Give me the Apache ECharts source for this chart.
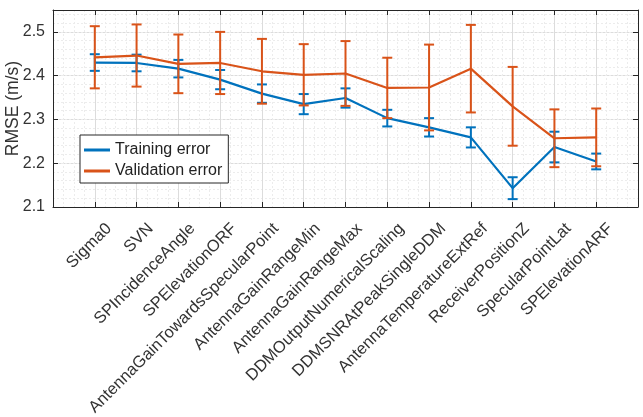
<!DOCTYPE html>
<html>
<head>
<meta charset="utf-8">
<script src="https://cdn.jsdelivr.net/npm/echarts@6/dist/echarts.min.js"></script>
<style>
  html, body { margin: 0; padding: 0; background: #fff; }
  #chart { width: 643px; height: 417px; }
</style>
</head>
<body>
<div id="chart"></div>
<script>
const categories = [
  'Sigma0', 'SVN', 'SPIncidenceAngle', 'SPElevationORF',
  'AntennaGainTowardsSpecularPoint', 'AntennaGainRangeMin', 'AntennaGainRangeMax',
  'DDMOutputNumericalScaling', 'DDMSNRAtPeakSingleDDM', 'AntennaTemperatureExtRef',
  'ReceiverPositionZ', 'SpecularPointLat', 'SPElevationARF'
];
const trainMean = [2.430, 2.429, 2.416, 2.391, 2.359, 2.335, 2.349, 2.303, 2.282, 2.259, 2.143, 2.237, 2.204];
const trainErr = [0.019, 0.019, 0.020, 0.022, 0.021, 0.023, 0.022, 0.019, 0.021, 0.023, 0.025, 0.035, 0.018];
const valMean = [2.442, 2.446, 2.427, 2.429, 2.410, 2.402, 2.405, 2.372, 2.373, 2.416, 2.330, 2.257, 2.259];
const valErr = [0.071, 0.071, 0.067, 0.071, 0.074, 0.070, 0.074, 0.069, 0.098, 0.100, 0.090, 0.066, 0.066];

const BLUE = '#0072BD';
const ORANGE = '#D95319';
const FONT = 'Liberation Sans';
const TEXT = '#333';

const pts = (means) => means.map((v, i) => [i + 1, v]);
const bars = (means, errs) => means.map((v, i) => [i + 1, v - errs[i], v + errs[i]]);

function errorBar(color) {
  return function (params, api) {
    const x = api.value(0);
    const lo = api.coord([x, api.value(1)]);
    const hi = api.coord([x, api.value(2)]);
    const w = 5;
    const style = { stroke: color, lineWidth: 2 };
    return {
      type: 'group',
      children: [
        { type: 'line', shape: { x1: lo[0], y1: lo[1], x2: hi[0], y2: hi[1] }, style },
        { type: 'line', shape: { x1: lo[0] - w, y1: lo[1], x2: lo[0] + w, y2: lo[1] }, style },
        { type: 'line', shape: { x1: hi[0] - w, y1: hi[1], x2: hi[0] + w, y2: hi[1] }, style }
      ]
    };
  };
}

const majorGrid = { show: true, lineStyle: { color: '#dcdcdc', width: 1 } };
const minorGrid = { show: true, lineStyle: { color: '#ececec', width: 1, type: [2, 2] } };
const boxLine = { show: true, onZero: false, lineStyle: { color: '#262626', width: 1 } };
const inTick = { show: true, inside: true, length: 5, lineStyle: { color: '#262626' } };

const option = {
  animation: false,
  backgroundColor: '#fff',
  textStyle: { fontFamily: FONT },
  grid: { left: 53, right: 5, top: 10, bottom: 210, containLabel: false, outerBoundsMode: 'none' },
  legend: {
    orient: 'vertical',
    left: 80,
    top: 135,
    padding: [7, 6, 4, 4],
    itemGap: 5,
    itemWidth: 26,
    itemHeight: 3,
    borderColor: '#262626',
    borderWidth: 1,
    backgroundColor: '#fff',
    textStyle: { fontFamily: FONT, fontSize: 16, color: '#222', lineHeight: 16 },
    data: [
      { name: 'Training error', icon: 'rect' },
      { name: 'Validation error', icon: 'rect' }
    ]
  },
  xAxis: [
    {
      type: 'value',
      min: 0,
      max: 14,
      interval: 1,
      axisLine: boxLine,
      axisTick: inTick,
      axisLabel: {
        rotate: 45,
        margin: 5,
        verticalAlign: 'top',
        lineHeight: 40,
        fontSize: 16.5,
        fontFamily: FONT,
        color: TEXT,
        formatter: (v) => categories[v - 1] || ''
      },
      splitLine: majorGrid,
      minorTick: { show: false, splitNumber: 4 },
      minorSplitLine: minorGrid
    },
    {
      type: 'value',
      position: 'top',
      min: 0,
      max: 14,
      interval: 1,
      axisLine: boxLine,
      axisTick: inTick,
      axisLabel: { show: false },
      splitLine: { show: false }
    }
  ],
  yAxis: [
    {
      type: 'value',
      min: 2.1,
      max: 2.55,
      interval: 0.1,
      name: 'RMSE (m/s)',
      nameLocation: 'middle',
      nameGap: 31,
      nameMoveOverlap: false,
      nameTextStyle: { fontSize: 17.5, fontFamily: FONT, color: TEXT },
      axisLine: boxLine,
      axisTick: inTick,
      axisLabel: {
        fontSize: 16,
        fontFamily: FONT,
        color: TEXT,
        margin: 8,
        showMaxLabel: false,
        formatter: (v) => v.toFixed(1)
      },
      splitLine: majorGrid
    },
    {
      type: 'value',
      position: 'right',
      min: 2.1,
      max: 2.55,
      interval: 0.1,
      axisLine: boxLine,
      axisTick: inTick,
      axisLabel: { show: false },
      splitLine: { show: false }
    },
    {
      type: 'value',
      position: 'left',
      min: 2.1,
      max: 2.55,
      interval: 0.02,
      axisLine: { show: false },
      axisTick: { show: false },
      axisLabel: { show: false },
      splitLine: minorGrid
    }
  ],
  series: [
    {
      name: 'Training error',
      type: 'line',
      data: pts(trainMean),
      symbol: 'none',
      lineStyle: { color: BLUE, width: 2.2 },
      itemStyle: { color: BLUE },
      z: 3
    },
    {
      name: 'trainBars',
      type: 'custom',
      data: bars(trainMean, trainErr),
      renderItem: errorBar(BLUE),
      encode: { x: 0, y: [1, 2] },
      z: 4
    },
    {
      name: 'Validation error',
      type: 'line',
      data: pts(valMean),
      symbol: 'none',
      lineStyle: { color: ORANGE, width: 2.2 },
      itemStyle: { color: ORANGE },
      z: 5
    },
    {
      name: 'valBars',
      type: 'custom',
      data: bars(valMean, valErr),
      renderItem: errorBar(ORANGE),
      encode: { x: 0, y: [1, 2] },
      z: 6
    }
  ]
};

const chart = echarts.init(document.getElementById('chart'));
chart.setOption(option);
</script>
</body>
</html>
